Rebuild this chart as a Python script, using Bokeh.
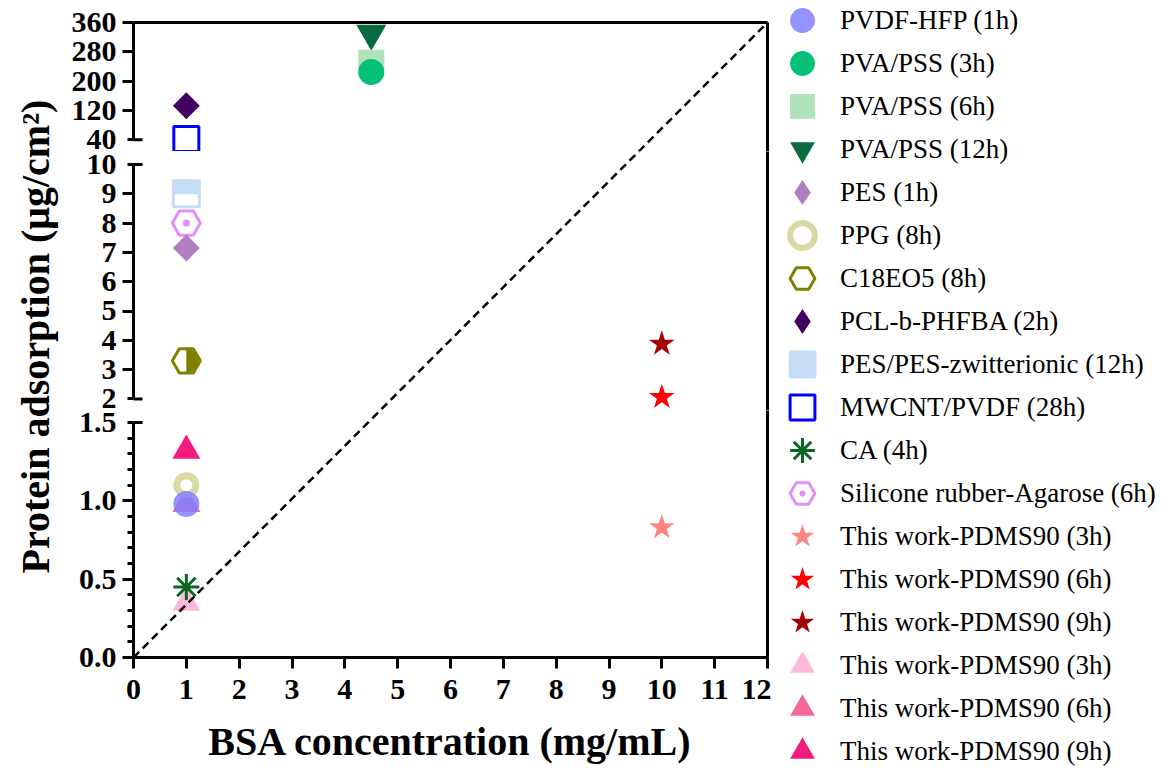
import numpy as np
from bokeh.plotting import figure
from bokeh.models import (Range1d, LinearAxis, FixedTicker, CustomJSTickFormatter,
                          Legend, LegendItem, Label, ColumnDataSource)
from bokeh.layouts import row, column
from bokeh.transform import dodge
from bokeh.embed import file_html
from bokeh.resources import INLINE

# ---------------- data ----------------
series_names = [
    "PVDF-HFP (1h)", "PVA/PSS (3h)", "PVA/PSS (6h)", "PVA/PSS (12h)", "PES (1h)",
    "PPG (8h)", "C18EO5 (8h)", "PCL-b-PHFBA (2h)", "PES/PES-zwitterionic (12h)",
    "MWCNT/PVDF (28h)", "CA (4h)", "Silicone rubber-Agarose (6h)",
    "This work-PDMS90 (3h)", "This work-PDMS90 (6h)", "This work-PDMS90 (9h)",
    "This work-PDMS90 (3h)", "This work-PDMS90 (6h)", "This work-PDMS90 (9h)",
]
bsa_concentration = [1, 4.5, 4.5, 4.5, 1, 1, 1, 1, 1, 1, 1, 1, 10, 10, 10, 1, 1, 1]
protein_adsorption = [0.98, 225, 250, 330, 7.15, 1.1, 3.3, 133, 9.0, 42, 0.45, 8.0,
                      0.83, 2.06, 3.88, 0.35, 0.98, 1.32]

x_tick_values = [0, 1, 2, 3, 4, 5, 6, 7, 8, 9, 10, 11, 12]
y_ticks_upper = [40, 120, 200, 280, 360]
y_ticks_middle = [2, 3, 4, 5, 6, 7, 8, 9, 10]
y_ticks_lower = [0.0, 0.5, 1.0, 1.5]
y_minor_lower = [0.1, 0.2, 0.3, 0.4, 0.6, 0.7, 0.8, 0.9, 1.1, 1.2, 1.3, 1.4]

x_title = "BSA concentration (mg/mL)"
y_title = "Protein adsorption (μg/cm²)"

# ---------------- styles ----------------
styles = [
    dict(marker="circle", size=26, fill="#8080FF", line=None, lw=0, alpha=0.85),
    dict(marker="circle", size=26, fill="#05C078", line=None, lw=0, alpha=1.0),
    dict(marker="square", size=26, fill="#A8DEB1", line=None, lw=0, alpha=0.9),
    dict(marker="inverted_triangle", size=30, fill="#0A6A3F", line=None, lw=0, alpha=1.0),
    dict(marker="square", angle=np.pi / 4, size=19, fill="#B07FC2", line=None, lw=0, alpha=1.0, legend_marker="diamond"),
    dict(marker="circle", size=19, fill="white", line="#D9D9A3", lw=7, alpha=1.0, legend_lw=6),
    dict(marker="hex", size=28, fill="white", line="#808000", lw=3, alpha=1.0),
    dict(marker="square", angle=np.pi / 4, size=19, fill="#420060", line=None, lw=0, alpha=1.0, legend_marker="diamond"),
    dict(marker="square", size=26, fill="#C6DDF6", line="#C6DDF6", lw=3, alpha=1.0),
    dict(marker="square", size=25, fill=None, line="#0000FF", lw=3, alpha=1.0),
    dict(marker="asterisk", size=26, fill=None, line="#0B6623", lw=3, alpha=1.0),
    dict(marker="hex_dot", size=28, fill="white", line="#E28EFF", lw=3, alpha=1.0),
    dict(marker="star", size=27, fill="#FF8585", line=None, lw=0, alpha=1.0),
    dict(marker="star", size=27, fill="#FF0000", line=None, lw=0, alpha=1.0),
    dict(marker="star", size=27, fill="#A30000", line=None, lw=0, alpha=1.0),
    dict(marker="triangle", size=28, fill="#FFB8DA", line=None, lw=0, alpha=1.0),
    dict(marker="triangle", size=28, fill="#F4689A", line=None, lw=0, alpha=1.0),
    dict(marker="triangle", size=28, fill="#F31A80", line=None, lw=0, alpha=1.0),
]

FONT = "Liberation Serif"
TICK_FONT_SIZE = "30px"
TITLE_FONT_SIZE = "40px"
LEGEND_FONT_SIZE = "27px"

# ---------------- layout geometry (page px) ----------------
TOTAL_H = 771
FRAME_W = 634
TITLE_W = 60
TICKLAB_W = 62
TICKLAB_BORDER = 56
TICK_OUT = 11
RIGHT_BORDER = 4
TOP_Y = 22        # frame top
BOTTOM_Y = 657    # x axis
BOTTOM_BORDER = TOTAL_H - BOTTOM_Y
LEGEND_W = 1169 - (TITLE_W + TICKLAB_W + TICK_OUT + FRAME_W + RIGHT_BORDER)

segments = [
    dict(ticks=y_ticks_upper, minor=[], fmt="%d", px_lo=139.3, px_hi=22.0, top=22, bottom=151,
         caps=[y_ticks_upper[0]]),
    dict(ticks=y_ticks_middle, minor=[], fmt="%d", px_lo=398.4, px_hi=164.0, top=151, bottom=410,
         caps=[y_ticks_middle[0], y_ticks_middle[-1]]),
    dict(ticks=y_ticks_lower, minor=y_minor_lower, fmt="%.1f", px_lo=657.0, px_hi=422.0, top=410, bottom=657,
         caps=[y_ticks_lower[-1]]),
]


def ppu(seg):
    return (seg["px_lo"] - seg["px_hi"]) / (seg["ticks"][-1] - seg["ticks"][0])


def val(seg, px):
    return seg["ticks"][0] + (seg["px_lo"] - px) / ppu(seg)


def pix(seg, v):
    return seg["px_lo"] - (v - seg["ticks"][0]) * ppu(seg)


sources = [ColumnDataSource(dict(x=[bsa_concentration[i]], y=[protein_adsorption[i]]))
           for i in range(len(series_names))]


def draw_series(p, i, legend_mode=False):
    st = styles[i]
    marker = st.get("legend_marker", st["marker"]) if legend_mode else st["marker"]
    angle = 0 if legend_mode else st.get("angle", 0)
    lw = st.get("legend_lw", st["lw"]) if legend_mode else st["lw"]
    return p.scatter(x="x", y="y", source=sources[i], marker=marker, size=st["size"],
                     angle=angle, fill_color=st["fill"], fill_alpha=st["alpha"],
                     line_color=st["line"], line_width=lw)


def style_axis(ax):
    ax.axis_line_width = 3
    ax.axis_line_color = "black"
    ax.major_tick_line_width = 3
    ax.minor_tick_line_width = 3
    ax.major_tick_line_color = "black"
    ax.minor_tick_line_color = "black"
    ax.major_tick_in = 0
    ax.major_tick_out = TICK_OUT
    ax.minor_tick_in = 0
    ax.minor_tick_out = 6
    ax.major_label_text_font = FONT
    ax.major_label_text_font_size = TICK_FONT_SIZE
    ax.major_label_text_font_style = "bold"
    ax.major_label_text_color = "black"


def frame_axis():
    ax = LinearAxis(ticker=FixedTicker(ticks=[], minor_ticks=[]))
    ax.axis_line_width = 3
    ax.axis_line_color = "black"
    ax.major_tick_out = 0
    ax.major_tick_in = 0
    ax.minor_tick_out = 0
    ax.minor_tick_in = 0
    ax.major_label_standoff = 0
    ax.axis_label_standoff = 0
    return ax


panels = []
for k, seg in enumerate(segments):
    first = k == 0
    last = k == len(segments) - 1
    lo, hi = seg["ticks"][0], seg["ticks"][-1]
    fh = seg["bottom"] - seg["top"]
    p = figure(frame_width=FRAME_W, frame_height=fh,
               x_range=Range1d(x_tick_values[0], x_tick_values[-1]),
               y_range=Range1d(val(seg, seg["bottom"]), val(seg, seg["top"])),
               x_axis_type=None, y_axis_type=None,
               output_backend="svg", toolbar_location=None,
               min_border_left=TICK_OUT, min_border_right=RIGHT_BORDER,
               min_border_top=TOP_Y if first else 0,
               min_border_bottom=BOTTOM_BORDER if last else 0)
    p.outline_line_color = None
    p.background_fill_color = "white"
    p.border_fill_color = "white"

    # left axis: long ticks at inner values, short ticks at minor values and break ends
    majors = [t for t in seg["ticks"] if t not in seg["caps"]]
    minors = list(seg["minor"]) + list(seg["caps"])
    yax = LinearAxis(ticker=FixedTicker(ticks=majors, minor_ticks=minors),
                     formatter=CustomJSTickFormatter(code="return ''"),
                     bounds=(lo, hi))
    style_axis(yax)
    yax.major_label_standoff = 0
    p.add_layout(yax, "left")
    p.add_layout(frame_axis(), "right")
    if first:
        p.add_layout(frame_axis(), "above")
    if last:
        xax = LinearAxis(ticker=FixedTicker(ticks=x_tick_values, minor_ticks=[]),
                         axis_label=x_title)
        style_axis(xax)
        xax.major_label_standoff = 11
        xax.axis_label_text_font = FONT
        xax.axis_label_text_font_size = TITLE_FONT_SIZE
        xax.axis_label_text_font_style = "bold"
        xax.axis_label_text_color = "black"
        xax.axis_label_standoff = 17
        p.add_layout(xax, "below")

    # inner half of the break-end caps
    p.scatter(x=[x_tick_values[0]] * len(seg["caps"]), y=seg["caps"], marker="dash",
              size=18, line_color="black", line_width=3)

    # markers (later series behind earlier ones), only in the segment holding the value
    for i in reversed(range(len(series_names))):
        if not (lo <= protein_adsorption[i] <= hi):
            continue
        draw_series(p, i)
        if i == 6:
            p.wedge(x="x", y="y", source=sources[i], radius=12, radius_units="screen",
                    start_angle=-np.pi / 2, end_angle=np.pi / 2,
                    fill_color="#808000", line_color=None)
        elif i == 8:
            p.rect(x="x", y=dodge("y", -6.0 / ppu(seg)), source=sources[i],
                   width=23, height=11, width_units="screen", height_units="screen",
                   fill_color="white", line_color=None)

    # diagonal reference line across the whole (broken) plot area
    p.line([x_tick_values[0], x_tick_values[-1]], [val(seg, BOTTOM_Y), val(seg, TOP_Y)],
           line_color="black", line_width=2.5, line_dash="8 5")
    panels.append(p)

# ---------------- y title ----------------
ytitle = figure(width=TITLE_W, height=TOTAL_H, x_range=Range1d(0, 1), y_range=Range1d(0, 1),
                x_axis_type=None, y_axis_type=None, output_backend="svg",
                toolbar_location=None, min_border=0)
ytitle.outline_line_color = None
ytitle.add_layout(Label(x=35, y=TOTAL_H - 336, x_units="screen", y_units="screen",
                        text=y_title, angle=np.pi / 2, text_align="center",
                        text_baseline="middle", text_font=FONT,
                        text_font_size=TITLE_FONT_SIZE, text_font_style="bold",
                        text_color="black"))

# ---------------- y tick labels for all three segments (one column) ----------------
tick_pos, tick_text = [], []
for seg in segments:
    for t in seg["ticks"]:
        tick_pos.append(int(round(pix(seg, t))))
        tick_text.append(seg["fmt"] % t)
ticklab = figure(width=TICKLAB_W, height=TOTAL_H, x_range=Range1d(0, 1),
                 y_range=Range1d(TOTAL_H, 0), x_axis_type=None, y_axis_type=None,
                 output_backend="svg", toolbar_location=None,
                 min_border_left=TICKLAB_BORDER, min_border_right=0,
                 min_border_top=0, min_border_bottom=0)
ticklab.outline_line_color = None
lab_ax = LinearAxis(ticker=FixedTicker(ticks=tick_pos, minor_ticks=[]),
                    major_label_overrides=dict(zip(tick_pos, tick_text)))
lab_ax.axis_line_color = None
lab_ax.major_tick_line_color = None
lab_ax.minor_tick_line_color = None
lab_ax.major_tick_out = 0
lab_ax.major_tick_in = 0
lab_ax.minor_tick_out = 0
lab_ax.minor_tick_in = 0
lab_ax.major_label_standoff = 0
lab_ax.major_label_text_font = FONT
lab_ax.major_label_text_font_size = TICK_FONT_SIZE
lab_ax.major_label_text_font_style = "bold"
lab_ax.major_label_text_color = "black"
ticklab.add_layout(lab_ax, "left")

# ---------------- legend (two interleaved columns of rows) ----------------
leg = figure(width=LEGEND_W, height=TOTAL_H, x_range=Range1d(0, 1), y_range=Range1d(0, 1),
             x_axis_type=None, y_axis_type=None, output_backend="svg",
             toolbar_location=None, min_border=0)
leg.outline_line_color = None
items = []
for i in range(len(series_names)):
    r = draw_series(leg, i, legend_mode=True)
    r.visible = False
    items.append(LegendItem(label=series_names[i], renderers=[r]))

ROW_PITCH = 43
FIRST_ROW_Y = 20
GLYPH_H = 2 * ROW_PITCH
for parity in (0, 1):
    sub = items[parity::2]
    top = FIRST_ROW_Y + parity * ROW_PITCH - GLYPH_H // 2
    bottom = top + GLYPH_H * len(sub)
    lg = Legend(items=sub, location=(0, TOTAL_H - bottom), glyph_width=62,
                glyph_height=GLYPH_H, spacing=0, padding=0, margin=0, label_standoff=7,
                label_text_font=FONT, label_text_font_size=LEGEND_FONT_SIZE,
                label_text_color="black", border_line_color=None,
                background_fill_alpha=0)
    leg.add_layout(lg)

layout = row(ytitle, ticklab, column(*panels, spacing=0), leg, spacing=0)

with open("out.html", "w") as f:
    f.write(file_html(layout, INLINE))
